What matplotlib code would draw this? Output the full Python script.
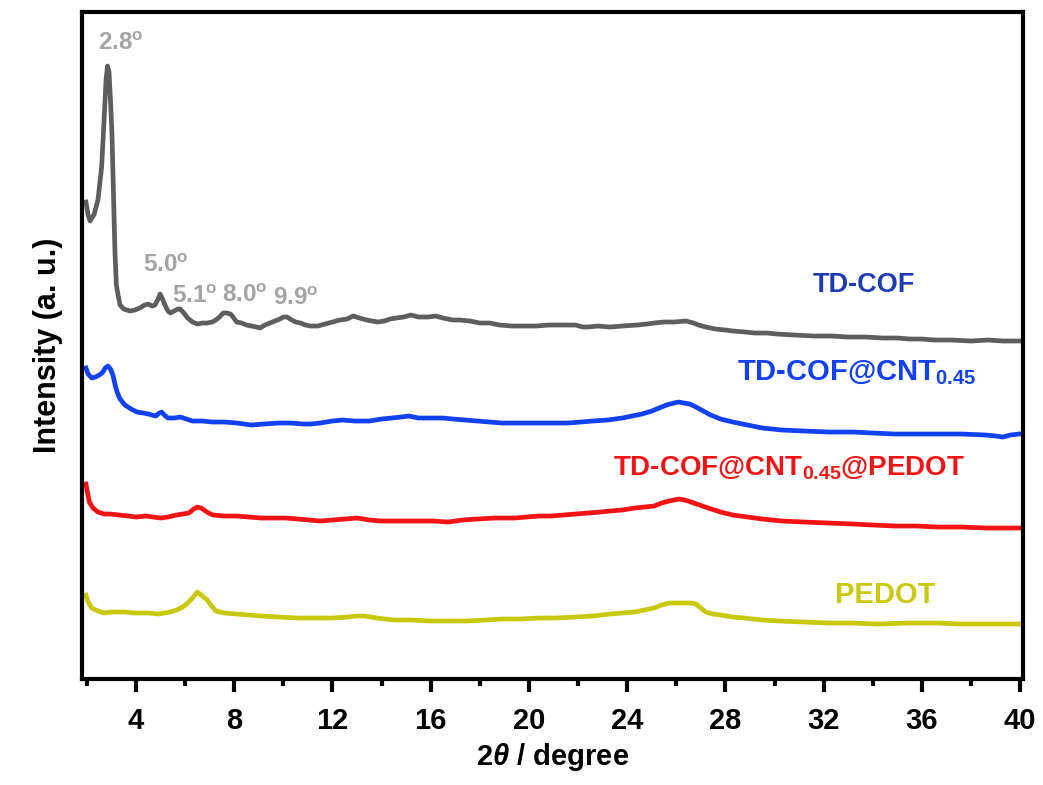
import matplotlib
matplotlib.use("Agg")
import matplotlib.pyplot as plt
from matplotlib.ticker import MultipleLocator

plt.rcParams['font.family'] = ['Liberation Sans', 'DejaVu Sans']
plt.rcParams['font.weight'] = 'bold'
plt.rcParams['mathtext.fontset'] = 'custom'
plt.rcParams['mathtext.rm'] = 'Liberation Sans:bold'
plt.rcParams['mathtext.bf'] = 'Liberation Sans:bold'
plt.rcParams['mathtext.it'] = 'Liberation Sans:italic'
plt.rcParams['mathtext.default'] = 'bf'

# XRD patterns (2theta in degree, stacked intensity in a.u.)
cof_theta = [
    1.96, 2.05, 2.13, 2.30, 2.45, 2.60, 2.70, 2.78, 2.84, 2.90,
    2.96, 3.02, 3.08, 3.14, 3.20, 3.27, 3.35, 3.50, 3.76, 3.95,
    4.16, 4.35, 4.50, 4.65, 4.77, 4.88, 4.98, 5.08, 5.18, 5.30,
    5.40, 5.55, 5.70, 5.80, 5.95, 6.10, 6.30, 6.50, 6.70, 6.90,
    7.10, 7.25, 7.40, 7.55, 7.70, 7.85, 7.95, 8.10, 8.30, 8.50,
    8.70, 8.90, 9.05, 9.25, 9.45, 9.65, 9.86, 10.00, 10.15, 10.35,
    10.50, 10.70, 10.90, 11.10, 11.40, 11.70, 12.00, 12.30, 12.60, 12.84,
    13.10, 13.40, 13.60, 13.85, 14.10, 14.35, 14.60, 14.90, 15.20, 15.50,
    15.90, 16.20, 16.50, 16.90, 17.20, 17.60, 18.00, 18.40, 18.80, 19.30,
    19.80, 20.30, 20.80, 21.20, 21.60, 21.90, 22.20, 22.40, 22.80, 23.30,
    23.80, 24.40, 24.80, 25.10, 25.50, 25.90, 26.40, 26.70, 26.90, 27.20,
    27.60, 28.00, 28.30, 28.80, 29.20, 29.70, 30.10, 30.80, 31.60, 32.30,
    33.00, 33.70, 34.40, 35.00, 35.50, 36.00, 36.50, 37.20, 38.00, 38.70,
    39.30, 39.95,
]
cof_int = [
    477, 464, 458, 465, 479, 512, 559, 599, 613, 607,
    579, 546, 489, 429, 394, 384, 374, 370, 368, 369,
    371, 374, 375, 373, 374, 379, 385, 380, 374, 368,
    366, 368, 370, 370, 366, 361, 357, 355, 356, 356,
    357, 359, 362, 366, 366, 365, 362, 357, 356, 354,
    353, 352, 351, 354, 356, 358, 360, 362, 362, 359,
    357, 356, 354, 353, 353, 355, 357, 359, 360, 363,
    361, 359, 358, 357, 358, 360, 361, 362, 364, 362,
    362, 363, 361, 359, 359, 358, 356, 356, 354, 353,
    353, 353, 354, 354, 354, 354, 352, 352, 353, 352,
    353, 354, 355, 356, 357, 357, 358, 356, 354, 352,
    350, 349, 348, 347, 346, 346, 345, 344, 343, 343,
    342, 342, 341, 341, 340, 340, 339, 339, 338, 339,
    338, 338,
]

cnt_theta = [
    1.96, 2.05, 2.20, 2.35, 2.50, 2.62, 2.75, 2.86, 2.96, 3.06,
    3.15, 3.23, 3.35, 3.55, 3.80, 4.04, 4.30, 4.50, 4.65, 4.80,
    4.95, 5.05, 5.15, 5.30, 5.55, 5.80, 6.05, 6.30, 6.70, 7.10,
    7.60, 8.10, 8.70, 9.20, 9.80, 10.30, 10.80, 11.10, 11.50, 12.00,
    12.40, 12.90, 13.50, 14.00, 14.40, 14.80, 15.10, 15.50, 16.00, 16.50,
    16.90, 17.40, 17.90, 18.40, 18.90, 19.60, 20.40, 21.00, 21.60, 22.10,
    22.60, 23.20, 23.80, 24.20, 24.60, 25.00, 25.30, 25.60, 25.90, 26.10,
    26.30, 26.55, 26.80, 27.10, 27.40, 27.80, 28.30, 28.90, 29.50, 30.30,
    31.20, 32.20, 33.20, 34.00, 34.90, 35.70, 36.60, 37.60, 38.60, 39.00,
    39.30, 39.60, 39.95,
]
cnt_int = [
    311, 305, 301, 302, 304, 306, 311, 313, 310, 304,
    294, 287, 280, 274, 270, 267, 266, 265, 264, 263,
    266, 267, 264, 261, 261, 262, 260, 258, 258, 257,
    257, 256, 254, 255, 256, 256, 255, 255, 256, 258,
    259, 258, 258, 260, 261, 262, 263, 261, 261, 261,
    260, 259, 258, 257, 256, 256, 256, 256, 256, 257,
    258, 259, 261, 263, 265, 268, 271, 274, 276, 277,
    276, 275, 272, 268, 264, 260, 257, 254, 251, 249,
    248, 247, 247, 246, 245, 245, 245, 245, 244, 243,
    242, 244, 245,
]

pedot_cnt_theta = [
    1.96, 2.02, 2.10, 2.25, 2.45, 2.70, 2.94, 3.30, 3.70, 4.00,
    4.40, 4.70, 5.00, 5.30, 5.65, 5.90, 6.15, 6.35, 6.50, 6.65,
    6.77, 6.95, 7.14, 7.60, 8.10, 8.60, 9.10, 9.60, 10.10, 10.60,
    11.05, 11.50, 12.00, 12.50, 13.00, 13.50, 14.00, 14.70, 15.50, 16.10,
    16.70, 17.30, 17.90, 18.60, 19.40, 19.90, 20.40, 20.90, 21.40, 21.90,
    22.40, 22.90, 23.30, 23.80, 24.30, 24.70, 25.10, 25.40, 25.70, 26.10,
    26.35, 26.60, 26.95, 27.30, 27.80, 28.30, 28.90, 29.50, 30.30, 31.20,
    32.20, 33.20, 34.00, 34.90, 35.80, 36.60, 37.60, 38.60, 39.30, 39.95,
]
pedot_cnt_int = [
    195, 187, 177, 171, 167, 165, 165, 164, 163, 162,
    163, 162, 161, 162, 164, 165, 166, 170, 172, 171,
    169, 166, 164, 163, 163, 162, 161, 161, 161, 160,
    159, 158, 159, 160, 161, 159, 158, 158, 158, 158,
    157, 159, 160, 161, 161, 162, 163, 163, 164, 165,
    166, 167, 168, 169, 171, 172, 173, 176, 178, 180,
    179, 177, 174, 171, 167, 164, 162, 160, 158, 157,
    156, 155, 154, 153, 153, 152, 152, 151, 151, 151,
]

pedot_theta = [
    1.96, 2.05, 2.20, 2.45, 2.70, 2.95, 3.20, 3.60, 3.90, 4.20,
    4.55, 4.90, 5.15, 5.40, 5.65, 5.90, 6.10, 6.30, 6.50, 6.70,
    6.90, 7.05, 7.25, 7.60, 8.10, 8.60, 9.10, 9.80, 10.55, 11.30,
    12.00, 12.60, 13.00, 13.30, 13.80, 14.50, 15.20, 16.00, 16.70, 17.45,
    18.20, 18.90, 19.60, 20.40, 21.10, 21.90, 22.60, 23.30, 23.80, 24.30,
    24.70, 25.10, 25.40, 25.70, 26.00, 26.30, 26.60, 26.80, 27.00, 27.20,
    27.50, 27.80, 28.30, 28.75, 29.50, 30.20, 31.20, 32.20, 33.20, 34.20,
    35.40, 36.60, 37.60, 38.60, 39.30, 39.95,
]
pedot_int = [
    84, 77, 71, 68, 66, 67, 67, 67, 66, 66,
    66, 65, 66, 67, 69, 72, 76, 81, 87, 83,
    79, 74, 68, 66, 65, 64, 63, 62, 61, 61,
    61, 62, 63, 63, 61, 59, 59, 58, 58, 58,
    59, 60, 60, 61, 61, 62, 63, 65, 66, 67,
    69, 71, 74, 76, 76, 76, 76, 75, 71, 67,
    65, 64, 62, 61, 59, 58, 57, 56, 56, 55,
    56, 56, 55, 55, 55, 55,
]

x_ticks = [4, 8, 12, 16, 20, 24, 28, 32, 36, 40]

fig = plt.figure(figsize=(10.43, 7.85), dpi=100)
ax = fig.add_axes([0.0786, 0.135, 0.9023, 0.8497])

lw = 3.4
ax.plot(cof_theta, cof_int, color='#5e5e5e', lw=lw, solid_joinstyle='round')
ax.plot(cnt_theta, cnt_int, color='#1241f2', lw=lw, solid_joinstyle='round')
ax.plot(pedot_cnt_theta, pedot_cnt_int, color='#f21414', lw=lw, solid_joinstyle='round')
ax.plot(pedot_theta, pedot_int, color='#c9c90c', lw=lw, solid_joinstyle='round')

ax.set_xlim(1.8, 40.12)
ax.set_ylim(0, 667)
ax.set_xticks(x_ticks)
ax.xaxis.set_minor_locator(MultipleLocator(2))
ax.set_yticks([])
ax.tick_params(axis='x', which='major', direction='out', length=9.5, width=3,
               labelsize=21, pad=11)
ax.tick_params(axis='x', which='minor', direction='out', length=5, width=3)
for lab in ax.get_xticklabels():
    lab.set_fontweight('bold')
for sp in ax.spines.values():
    sp.set_linewidth(3)

ax.set_xlabel(r'2$\mathit{\theta}$ / degree', fontsize=21, fontweight='bold', labelpad=4)
ax.set_ylabel('Intensity (a. u.)', fontsize=22, fontweight='bold', labelpad=14)

# peak annotations
peak_color = '#a4a4a4'
ann = dict(color=peak_color, fontsize=17.5, fontweight='bold', ha='left', va='baseline')
ax.text(2.45, 629, r'2.8$^{o}$', **ann)
ax.text(4.29, 407, r'5.0$^{o}$', **ann)
ax.text(5.47, 376, r'5.1$^{o}$', **ann)
ax.text(7.50, 377, r'8.0$^{o}$', **ann)
ax.text(9.58, 374, r'9.9$^{o}$', **ann)

# sample labels
ax.text(31.55, 387, 'TD-COF', color='#1d3cb0', fontsize=19.5, fontweight='bold',
        ha='left', va='baseline')
ax.text(28.47, 299, r'TD-COF@CNT$_{0.45}$', color='#1241f2', fontsize=21,
        fontweight='bold', ha='left', va='baseline')
ax.text(23.42, 204, r'TD-COF@CNT$_{0.45}$@PEDOT', color='#f21414', fontsize=20,
        fontweight='bold', ha='left', va='baseline')
ax.text(32.46, 76, 'PEDOT', color='#c9c90c', fontsize=21, fontweight='bold',
        ha='left', va='baseline')

fig.savefig('out.png', dpi=100)
